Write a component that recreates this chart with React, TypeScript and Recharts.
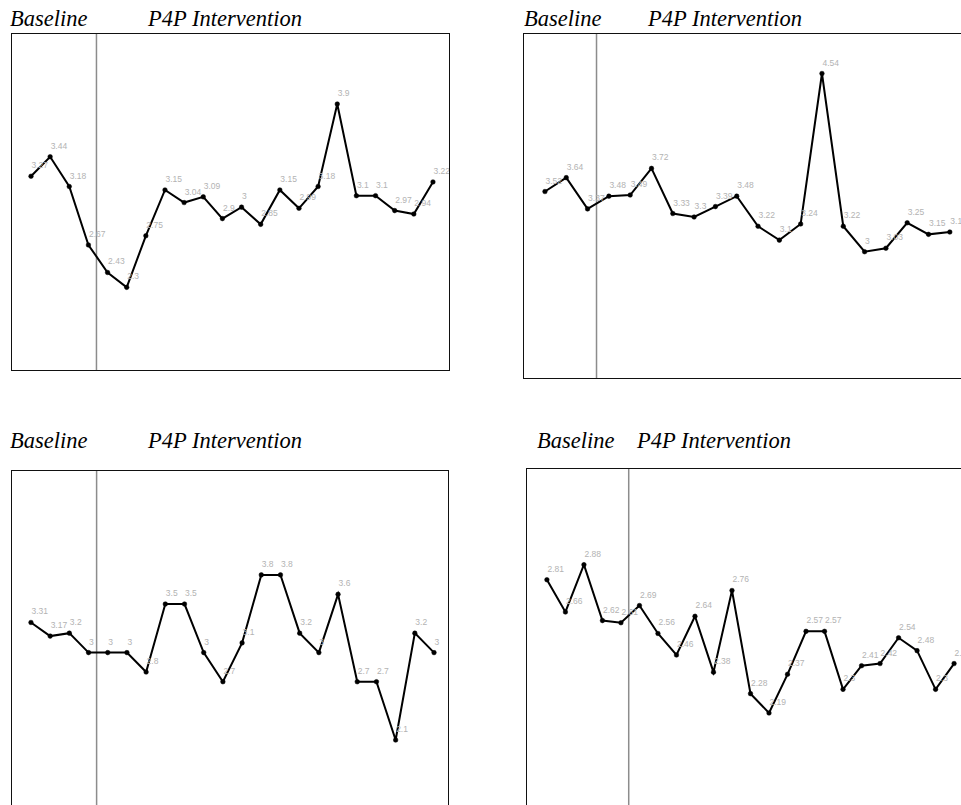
import React from "react";
import { LineChart, Line, XAxis, YAxis, ReferenceLine, LabelList } from "recharts";

const titleBaseline = "Baseline";
const titleIntervention = "P4P Intervention";

const panel1Values = [3.27, 3.44, 3.18, 2.67, 2.43, 2.3, 2.75, 3.15, 3.04, 3.09, 2.9, 3, 2.85, 3.15, 2.99, 3.18, 3.9, 3.1, 3.1, 2.97, 2.94, 3.22];
const panel2Values = [3.52, 3.64, 3.37, 3.48, 3.49, 3.72, 3.33, 3.3, 3.39, 3.48, 3.22, 3.1, 3.24, 4.54, 3.22, 3, 3.03, 3.25, 3.15, 3.17];
const panel3Values = [3.31, 3.17, 3.2, 3, 3, 3, 2.8, 3.5, 3.5, 3, 2.7, 3.1, 3.8, 3.8, 3.2, 3, 3.6, 2.7, 2.7, 2.1, 3.2, 3];
const panel4Values = [2.81, 2.66, 2.88, 2.62, 2.61, 2.69, 2.56, 2.46, 2.64, 2.38, 2.76, 2.28, 2.19, 2.37, 2.57, 2.57, 2.3, 2.41, 2.42, 2.54, 2.48, 2.3, 2.42];

// number of baseline sessions before the phase line
const baselineCounts = [4, 3, 4, 5];

type PanelProps = {
  values: number[];
  baseline: number;
  left: number;
  top: number;
  width: number;
  height: number;
  padL: number;
  padR: number;
  yDomain: [number, number];
};

const ValueLabel = (props: any) => {
  const { x, y, value } = props;
  return (
    <text x={x + 0.5} y={y - 8} fill="#b3b3b3" fontSize={8.5} fontFamily="'Liberation Sans', Arial, sans-serif" textAnchor="start">
      {String(value)}
    </text>
  );
};

function Panel({ values, baseline, left, top, width, height, padL, padR, yDomain }: PanelProps) {
  const data = values.map((v, i) => ({ i, v }));
  return (
    <>
      <div style={{ position: "absolute", left, top, width, height }}>
        <LineChart width={width} height={height} data={data} margin={{ top: 0, right: 0, bottom: 0, left: 0 }}>
          <XAxis dataKey="i" type="number" domain={[-padL, values.length - 1 + padR]} hide allowDataOverflow />
          <YAxis type="number" domain={yDomain} hide allowDataOverflow />
          <ReferenceLine x={baseline - 0.58} stroke="#8c8c8c" strokeWidth={1.5} />
          <Line
            dataKey="v"
            stroke="#000"
            strokeWidth={2}
            dot={{ r: 2.3, fill: "#000", stroke: "#000", strokeWidth: 0.5 }}
            isAnimationActive={false}
          >
            <LabelList dataKey="v" content={ValueLabel} />
          </Line>
        </LineChart>
      </div>
      <div
        style={{
          position: "absolute",
          left,
          top,
          width,
          height,
          border: "1.6px solid #111",
          boxSizing: "border-box",
          pointerEvents: "none",
        }}
      />
    </>
  );
}

export default function App() {
  const titleStyle = { fontFamily: "'Liberation Serif', 'Times New Roman', serif", fontStyle: "italic" as const, fontSize: 22.5, fill: "#000" };
  return (
    <div style={{ position: "absolute", left: 0, top: 0, width: 961, height: 805, overflow: "hidden", background: "#fff" }}>
      <svg width={961} height={805} style={{ position: "absolute", left: 0, top: 0 }}>
        <text x={10} y={26} {...titleStyle}>{titleBaseline}</text>
        <text x={148} y={26} {...titleStyle}>{titleIntervention}</text>
        <text x={524} y={26} {...titleStyle}>{titleBaseline}</text>
        <text x={648} y={26} {...titleStyle}>{titleIntervention}</text>
        <text x={10} y={448} {...titleStyle}>{titleBaseline}</text>
        <text x={148} y={448} {...titleStyle}>{titleIntervention}</text>
        <text x={537} y={448} {...titleStyle}>{titleBaseline}</text>
        <text x={637} y={448} {...titleStyle}>{titleIntervention}</text>
      </svg>
      <Panel values={panel1Values} baseline={baselineCounts[0]} left={11} top={33} width={439} height={338} padL={1.045} padR={0.89} yDomain={[1.57, 4.52]} />
      <Panel values={panel2Values} baseline={baselineCounts[1]} left={523} top={33} width={446} height={346} padL={1.03} padR={0.9} yDomain={[1.9, 4.89]} />
      <Panel values={panel3Values} baseline={baselineCounts[2]} left={11} top={470} width={438} height={338} padL={1.04} padR={0.78} yDomain={[1.4, 4.88]} />
      <Panel values={panel4Values} baseline={baselineCounts[3]} left={526} top={468} width={444} height={346} padL={1.13} padR={0.86} yDomain={[1.72, 3.33]} />
    </div>
  );
}
